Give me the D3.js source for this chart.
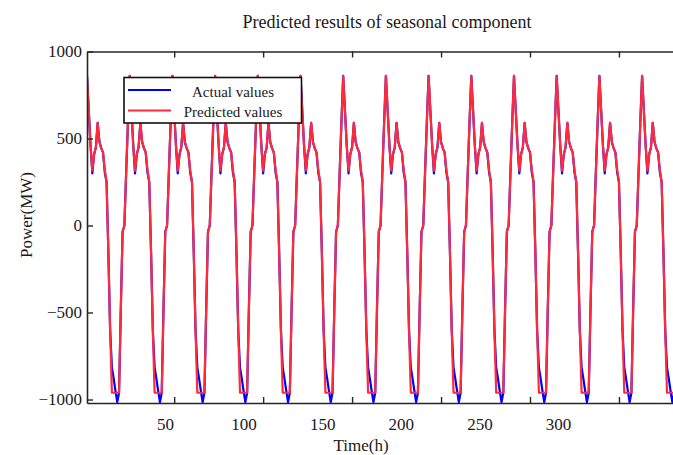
<!DOCTYPE html>
<html>
<head>
<meta charset="utf-8">
<script src="https://cdn.jsdelivr.net/npm/d3@7"></script>
<style>
  html, body { margin: 0; padding: 0; background: #fff; }
  svg { display: block; font-family: 'Liberation Serif', 'Times New Roman', serif; }
</style>
</head>
<body>
<div id="chart"></div>
<script>
// hourly seasonal component, 14 days x 24 h
const actualValues = [
  860, 660, 460, 300, 410, 450, 590, 480, 445, 420, 305, 250, -150, -600, -815, -880, -950, -1015, -961, -480, -36, 0, 300, 590,
  860, 660, 460, 300, 410, 450, 590, 480, 445, 420, 305, 250, -150, -600, -815, -880, -950, -1015, -961, -480, -36, 0, 300, 590,
  860, 660, 460, 300, 410, 450, 590, 480, 445, 420, 305, 250, -150, -600, -815, -880, -950, -1015, -961, -480, -36, 0, 300, 590,
  860, 660, 460, 300, 410, 450, 590, 480, 445, 420, 305, 250, -150, -600, -815, -880, -950, -1015, -961, -480, -36, 0, 300, 590,
  860, 660, 460, 300, 410, 450, 590, 480, 445, 420, 305, 250, -150, -600, -815, -880, -950, -1015, -961, -480, -36, 0, 300, 590,
  860, 660, 460, 300, 410, 450, 590, 480, 445, 420, 305, 250, -150, -600, -815, -880, -950, -1015, -961, -480, -36, 0, 300, 590,
  860, 660, 460, 300, 410, 450, 590, 480, 445, 420, 305, 250, -150, -600, -815, -880, -950, -1015, -961, -480, -36, 0, 300, 590,
  860, 660, 460, 300, 410, 450, 590, 480, 445, 420, 305, 250, -150, -600, -815, -880, -950, -1015, -961, -480, -36, 0, 300, 590,
  860, 660, 460, 300, 410, 450, 590, 480, 445, 420, 305, 250, -150, -600, -815, -880, -950, -1015, -961, -480, -36, 0, 300, 590,
  860, 660, 460, 300, 410, 450, 590, 480, 445, 420, 305, 250, -150, -600, -815, -880, -950, -1015, -961, -480, -36, 0, 300, 590,
  860, 660, 460, 300, 410, 450, 590, 480, 445, 420, 305, 250, -150, -600, -815, -880, -950, -1015, -961, -480, -36, 0, 300, 590,
  860, 660, 460, 300, 410, 450, 590, 480, 445, 420, 305, 250, -150, -600, -815, -880, -950, -1015, -961, -480, -36, 0, 300, 590,
  860, 660, 460, 300, 410, 450, 590, 480, 445, 420, 305, 250, -150, -600, -815, -880, -950, -1015, -961, -480, -36, 0, 300, 590,
  860, 660, 460, 300, 410, 450, 590, 480, 445, 420, 305, 250, -150, -600, -815, -880, -950, -1015, -961, -480, -36, 0, 300, 590
];
const predictedValues = [
  860, 660, 460, 315, 410, 450, 590, 480, 445, 420, 320, 250, -150, -600, -961, -961, -961, -961, -961, -480, -36, 0, 300, 590,
  860, 660, 460, 315, 410, 450, 590, 480, 445, 420, 320, 250, -150, -600, -961, -961, -961, -961, -961, -480, -36, 0, 300, 590,
  860, 660, 460, 315, 410, 450, 590, 480, 445, 420, 320, 250, -150, -600, -961, -961, -961, -961, -961, -480, -36, 0, 300, 590,
  860, 660, 460, 315, 410, 450, 590, 480, 445, 420, 320, 250, -150, -600, -961, -961, -961, -961, -961, -480, -36, 0, 300, 590,
  860, 660, 460, 315, 410, 450, 590, 480, 445, 420, 320, 250, -150, -600, -961, -961, -961, -961, -961, -480, -36, 0, 300, 590,
  860, 660, 460, 315, 410, 450, 590, 480, 445, 420, 320, 250, -150, -600, -961, -961, -961, -961, -961, -480, -36, 0, 300, 590,
  860, 660, 460, 315, 410, 450, 590, 480, 445, 420, 320, 250, -150, -600, -961, -961, -961, -961, -961, -480, -36, 0, 300, 590,
  860, 660, 460, 315, 410, 450, 590, 480, 445, 420, 320, 250, -150, -600, -961, -961, -961, -961, -961, -480, -36, 0, 300, 590,
  860, 660, 460, 315, 410, 450, 590, 480, 445, 420, 320, 250, -150, -600, -961, -961, -961, -961, -961, -480, -36, 0, 300, 590,
  860, 660, 460, 315, 410, 450, 590, 480, 445, 420, 320, 250, -150, -600, -961, -961, -961, -961, -961, -480, -36, 0, 300, 590,
  860, 660, 460, 315, 410, 450, 590, 480, 445, 420, 320, 250, -150, -600, -961, -961, -961, -961, -961, -480, -36, 0, 300, 590,
  860, 660, 460, 315, 410, 450, 590, 480, 445, 420, 320, 250, -150, -600, -961, -961, -961, -961, -961, -480, -36, 0, 300, 590,
  860, 660, 460, 315, 410, 450, 590, 480, 445, 420, 320, 250, -150, -600, -961, -961, -961, -961, -961, -480, -36, 0, 300, 590,
  860, 660, 460, 315, 410, 450, 590, 480, 445, 420, 320, 250, -150, -600, -961, -961, -961, -961, -961, -480, -36, 0, 300, 590
];
const xTicks = [50, 100, 150, 200, 250, 300];
const yTicks = [-1000, -500, 0, 500, 1000];
const seriesNames = ['Actual values', 'Predicted values'];
const seriesColors = ['#0000ff', '#ff2b3a'];

const width = 673, height = 455;
const margin = { top: 51.5, left: 87 };
const plotW = 596, plotH = 351.5; // right edge of the frame falls outside the window

const svg = d3.select('#chart').append('svg')
  .attr('width', width)
  .attr('height', height);

const x = d3.scaleLinear().domain([1, 336]).range([margin.left, margin.left + plotW]);
// tick labels in the source sit on a slightly compressed scale
const xLabel = d3.scaleLinear().domain([50, 300]).range([165, 558]);
const y = d3.scaleLinear().domain([-1020, 1000]).range([margin.top + plotH, margin.top]);

svg.append('defs').append('clipPath').attr('id', 'plot-clip')
  .append('rect')
  .attr('x', margin.left).attr('y', margin.top)
  .attr('width', plotW).attr('height', plotH);

// series
const line = d3.line()
  .x((d, i) => x(i + 1))
  .y(d => y(d));

[actualValues, predictedValues].forEach((vals, k) => {
  svg.append('path')
    .datum(vals)
    .attr('clip-path', 'url(#plot-clip)')
    .attr('d', line)
    .attr('fill', 'none')
    .attr('stroke', seriesColors[k])
    .attr('stroke-width', 2.2)
    .attr('stroke-linejoin', 'round');
});

// axes (ticks point inward)
const axisColor = '#262626';
const bottomAxis = svg.append('g')
  .attr('transform', `translate(0,${margin.top + plotH})`)
  .call(d3.axisBottom(x).tickValues(xTicks).tickSize(-6).tickFormat('').tickSizeOuter(0));
const topAxis = svg.append('g')
  .attr('transform', `translate(0,${margin.top})`)
  .call(d3.axisTop(x).tickValues(xTicks).tickSize(-6).tickFormat('').tickSizeOuter(0));
const labelAxis = svg.append('g')
  .attr('transform', `translate(0,${margin.top + plotH})`)
  .call(d3.axisBottom(xLabel).tickValues(xTicks).tickSize(0).tickPadding(15));
labelAxis.select('.domain').remove();
const leftAxis = svg.append('g')
  .attr('transform', `translate(${margin.left},0)`)
  .call(d3.axisLeft(y).tickValues(yTicks).tickFormat(d3.format('d'))
    .tickSize(-6).tickPadding(5).tickSizeOuter(0));

[bottomAxis, topAxis, leftAxis, labelAxis].forEach(g => {
  g.selectAll('.domain').attr('stroke', axisColor).attr('stroke-width', 1.6);
  g.selectAll('.tick line').attr('stroke', axisColor).attr('stroke-width', 1.4);
  g.selectAll('.tick text')
    .attr('fill', '#1a1a1a')
    .attr('font-family', "'Liberation Serif', serif")
    .attr('font-size', '17px');
});

// title and axis labels
svg.append('text')
  .attr('x', 387)
  .attr('y', 28)
  .attr('text-anchor', 'middle')
  .attr('font-size', '18px')
  .attr('fill', '#1a1a1a')
  .text('Predicted results of seasonal component');

svg.append('text')
  .attr('x', 361)
  .attr('y', 451)
  .attr('text-anchor', 'middle')
  .attr('font-size', '17px')
  .attr('fill', '#1a1a1a')
  .text('Time(h)');

svg.append('text')
  .attr('transform', 'translate(32,215) rotate(-90)')
  .attr('text-anchor', 'middle')
  .attr('font-size', '17px')
  .attr('fill', '#1a1a1a')
  .text('Power(MW)');

// legend
const legend = svg.append('g').attr('transform', 'translate(124,77.5)');
legend.append('rect')
  .attr('width', 177.5)
  .attr('height', 45.5)
  .attr('fill', '#fff')
  .attr('stroke', '#111')
  .attr('stroke-width', 1.6);

seriesNames.forEach((name, i) => {
  const ly = 12.5 + i * 20.5;
  legend.append('line')
    .attr('x1', 4).attr('x2', 47)
    .attr('y1', ly).attr('y2', ly)
    .attr('stroke', seriesColors[i])
    .attr('stroke-width', 2);
  legend.append('text')
    .attr('x', 109)
    .attr('y', ly + 6.5)
    .attr('text-anchor', 'middle')
    .attr('font-size', '15px')
    .attr('fill', '#1a1a1a')
    .text(name);
});
</script>
</body>
</html>
